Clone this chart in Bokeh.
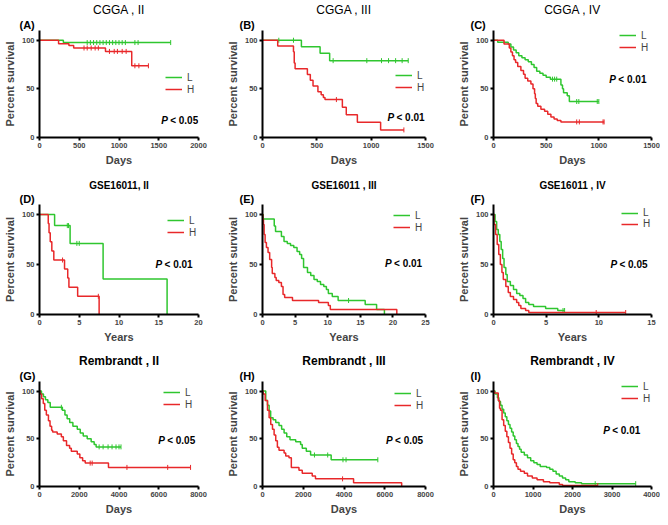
import numpy as np
from bokeh.plotting import figure
from bokeh.layouts import gridplot
from bokeh.models import Range1d, FixedTicker, Label, Legend, LegendItem, Title
from bokeh.embed import file_html
from bokeh.resources import INLINE

FONT = "Liberation Sans"
GREEN = "#2fc62f"
RED = "#e8282a"

# ---------------- data (Kaplan-Meier steps: time, percent survival, censor times) ----------------
A_ticks = [0, 500, 1000, 1500, 2000]
A_L_t = [0, 300, 1650]
A_L_s = [100, 97.6, 97.6]
A_L_c = [600, 640, 680, 720, 760, 800, 840, 880, 920, 960, 1000, 1040, 1080, 1200, 1240, 1650]
A_H_t = [0, 240, 370, 430, 830, 1160, 1370]
A_H_s = [100, 96.5, 94.5, 92, 88.5, 73.7, 73.7]
A_H_c = [560, 600, 650, 700, 740, 880, 940, 980, 1040, 1090, 1200, 1250, 1370]

B_ticks = [0, 500, 1000, 1500]
B_L_t = [0, 358, 530, 618, 1341]
B_L_s = [100, 93.3, 86.7, 79, 79]
B_L_c = [150, 285, 650, 960, 1095, 1160, 1225, 1285, 1341]
B_H_t = [0, 140, 285, 292, 300, 413, 440, 465, 510, 540, 560, 575, 735, 771, 873, 1087, 1301]
B_H_s = [100, 94.1, 88.2, 76.5, 70.6, 64.7, 58.8, 52.9, 47.1, 44, 41.2, 39, 31, 23.5, 15.7, 7.8, 7.8]
B_H_c = [680, 1301]

C_ticks = [0, 500, 1000, 1500]
C_L_t = [0, 40, 140, 165, 190, 215, 240, 270, 300, 330, 360, 385, 410, 440, 470, 500, 540, 640, 655, 665, 700, 720, 1000]
C_L_s = [100, 98, 96, 93, 90, 87, 84, 82, 80, 78, 75, 72, 68, 66, 64, 62, 60, 54, 50, 46, 43, 37, 37]
C_L_c = [560, 580, 600, 790, 810, 985, 1000]
C_H_t = [0, 100, 150, 165, 180, 195, 210, 230, 260, 285, 300, 325, 355, 375, 390, 397, 405, 420, 450, 485, 515, 545, 575, 605, 640, 1050]
C_H_s = [100, 96, 92, 88, 84, 80, 77, 73, 69, 65, 61, 58, 55, 50, 45, 40, 35, 32, 29, 27, 24, 21, 19, 17.5, 16, 16]
C_H_c = [790, 815, 1040, 1050]

D_ticks = [0, 5, 10, 15, 20]
D_L_t = [0, 1.9, 3.85, 8.0, 16.05]
D_L_s = [100, 88.9, 71.1, 35.6, 0]
D_L_c = [3.5, 3.65, 4.7, 5.0]
D_H_t = [0, 1.1, 1.2, 1.35, 1.55, 1.8, 3.15, 3.55, 3.7, 4.8, 7.5]
D_H_s = [100, 90.9, 81.8, 72.7, 63.6, 54.5, 45.5, 36.4, 27.3, 18.2, 0]
D_H_c = [2.9, 7.4]

E_ticks = [0, 5, 10, 15, 20, 25]
E_L_t = [0, 0.1, 1.8, 2.0, 2.9, 3.3, 3.8, 4.3, 4.8, 5.3, 5.7, 6.0, 6.3, 6.9, 7.4, 7.9, 8.4, 8.9, 9.4, 9.8, 10.1, 10.7, 11.6, 15.75, 17.5, 18.7]
E_L_s = [100, 95.5, 88.5, 83, 78, 73, 71, 69, 67, 63, 60, 56, 47, 42, 39, 35, 33, 30, 28, 25, 21, 18, 14, 10, 5, 0]
E_L_c = [13.2]
E_H_t = [0, 0.05, 0.15, 0.25, 0.4, 0.6, 0.85, 1.1, 1.4, 1.5, 1.9, 2.1, 2.5, 2.9, 3.15, 3.4, 4.6, 8.6, 10.1, 10.4, 20.6]
E_H_s = [100, 95, 90, 80, 72, 67, 62, 55, 47, 41, 37, 34, 32, 28, 20, 17, 14, 12, 9, 5, 0]
E_H_c = []

F_ticks = [0, 5, 10, 15]
F_L_t = [0, 0.15, 0.3, 0.45, 0.6, 0.73, 0.87, 1.0, 1.17, 1.3, 1.6, 1.9, 2.2, 2.5, 2.8, 3.05, 3.35, 3.8, 4.95, 6.1, 6.75]
F_L_s = [100, 93, 85, 80, 73, 65, 56, 47, 40, 33, 29, 25, 21, 19, 16, 12, 10, 8, 6, 4, 4]
F_L_c = [6.6, 6.75]
F_H_t = [0, 0.05, 0.2, 0.35, 0.5, 0.65, 0.8, 0.93, 1.17, 1.4, 1.6, 1.9, 2.2, 2.4, 2.6, 3.05, 3.35, 12.55]
F_H_s = [100, 90, 80, 70, 60, 50, 42, 35, 28, 22, 18, 15, 12, 9, 6, 4, 2, 2]
F_H_c = [9.75, 12.55]

G_ticks = [0, 2000, 4000, 6000, 8000]
G_L_t = [0, 100, 200, 300, 420, 540, 1150, 1280, 1390, 1520, 1680, 1900, 2050, 2200, 2400, 2600, 2750, 2850, 4100]
G_L_s = [100, 97, 94, 91, 88, 83, 80, 75, 71, 67, 63, 60, 56, 53, 50, 47, 44, 41.5, 41.5]
G_L_c = [1100, 3000, 3200, 3450, 3650, 3850, 4000, 4100]
G_H_t = [0, 30, 110, 190, 265, 345, 450, 530, 610, 660, 890, 1100, 1200, 1360, 1515, 1600, 1900, 2030, 2170, 2300, 3470, 7600]
G_H_s = [100, 97, 92, 87, 80, 75, 69, 63, 59, 57, 55, 52, 48, 43, 40, 37, 34, 30, 27, 24.5, 20, 20]
G_H_c = [2550, 2650, 4400, 6450, 7600]

H_ticks = [0, 2000, 4000, 6000, 8000]
H_L_t = [0, 160, 245, 325, 400, 520, 650, 810, 940, 1060, 1190, 1350, 1630, 1870, 1950, 2150, 2360, 3370, 5660]
H_L_s = [100, 90, 85, 79, 72, 70, 67, 64, 60, 56, 52, 49, 47, 44, 40, 37, 33, 28, 28]
H_L_c = [2550, 3200, 3950, 4100, 5660]
H_H_t = [0, 30, 130, 245, 325, 405, 490, 570, 650, 730, 810, 1060, 1140, 1300, 1415, 1790, 1950, 2440, 2600, 4470, 6830]
H_H_s = [100, 97, 90, 80, 72, 65, 60, 54, 48, 41, 38, 35, 32, 30, 20, 17, 14, 11, 8, 4, 0]
H_H_c = [3930]

I_ticks = [0, 1000, 2000, 3000, 4000]
I_L_t = [0, 40, 100, 137, 177, 217, 258, 298, 338, 378, 418, 459, 499, 539, 580, 620, 660, 700, 780, 861,
         942, 1022, 1103, 1183, 1344, 1425, 1505, 1586, 1666, 1747, 1827, 1907, 2068, 2229, 3600]
I_L_s = [100, 97, 93, 89, 85, 81, 77, 73, 69, 65, 61, 57, 53, 49, 45, 42, 39, 36, 33, 30,
         27, 25, 23, 21, 20, 18, 16, 13, 11, 9, 7, 5, 4, 3, 3]
I_L_c = [2575, 3600]
I_H_t = [0, 20, 120, 153, 177, 217, 258, 298, 338, 378, 418, 459, 499, 539, 580, 620, 684, 780, 861, 982,
         1103, 1264, 1425, 1666, 1750, 2640]
I_H_s = [100, 98, 90, 82, 80, 70, 64, 58, 52, 46, 40, 34, 28, 25, 21, 18, 16, 14, 11, 9,
         7, 5, 4, 2, 1, 1]
I_H_c = [2640]

panels = [
    dict(letter="(A)", title="CGGA , II", xlab="Days", ticks=A_ticks, L=(A_L_t, A_L_s, A_L_c), H=(A_H_t, A_H_s, A_H_c), p="< 0.05"),
    dict(letter="(B)", title="CGGA , III", xlab="Days", ticks=B_ticks, L=(B_L_t, B_L_s, B_L_c), H=(B_H_t, B_H_s, B_H_c), p="< 0.01"),
    dict(letter="(C)", title="CGGA , IV", xlab="Days", ticks=C_ticks, L=(C_L_t, C_L_s, C_L_c), H=(C_H_t, C_H_s, C_H_c), p="< 0.01"),
    dict(letter="(D)", title="GSE16011, II", xlab="Years", ticks=D_ticks, L=(D_L_t, D_L_s, D_L_c), H=(D_H_t, D_H_s, D_H_c), p="< 0.01"),
    dict(letter="(E)", title="GSE16011 , III", xlab="Years", ticks=E_ticks, L=(E_L_t, E_L_s, E_L_c), H=(E_H_t, E_H_s, E_H_c), p="< 0.01"),
    dict(letter="(F)", title="GSE16011 , IV", xlab="Years", ticks=F_ticks, L=(F_L_t, F_L_s, F_L_c), H=(F_H_t, F_H_s, F_H_c), p="< 0.05"),
    dict(letter="(G)", title="Rembrandt , II", xlab="Days", ticks=G_ticks, L=(G_L_t, G_L_s, G_L_c), H=(G_H_t, G_H_s, G_H_c), p="< 0.05"),
    dict(letter="(H)", title="Rembrandt , III", xlab="Days", ticks=H_ticks, L=(H_L_t, H_L_s, H_L_c), H=(H_H_t, H_H_s, H_H_c), p="< 0.05"),
    dict(letter="(I)", title="Rembrandt , IV", xlab="Days", ticks=I_ticks, L=(I_L_t, I_L_s, I_L_c), H=(I_H_t, I_H_s, I_H_c), p="< 0.01"),
]

# ---------------- layout (positions / sizes) ----------------
COL_W = [222, 223, 215]
COL_LEFT = [37, 40, 48]
COL_RIGHT = [24, 20, 9]
ROW_H = [170, 175, 172]
ROW_TOP = [28, 34, 36]
ROW_BOTTOM = [33, 31, 29]
ROW_TITLE = [dict(size="12px", style="normal"), dict(size="10px", style="bold"), dict(size="12px", style="bold")]
LETTER_DX = [-20, -23, -23]
P_POS = [(1530, 17), (1150, 21), (1100, 60), (14.6, 50), (18.8, 51), (11.1, 50), (5970, 48.5), (6065, 48.5), (2777, 59)]
LEG_POS = [(126, 42), (133, 44), (126, 84), (128, 76), (131, 81), (128, 85), (124, 76), (132, 75), (128, 82)]
LEG_H = [12, 12, 12, 12, 12, 8, 12, 12, 12]


def at(t, s, c):
    idx = np.searchsorted(np.asarray(t, dtype=float), np.asarray(c, dtype=float), side="right") - 1
    return list(np.asarray(s, dtype=float)[idx])


def make(i, pan):
    row, col = divmod(i, 3)
    xmax = pan["ticks"][-1]
    p = figure(width=COL_W[col], height=ROW_H[row], output_backend="svg", toolbar_location=None,
               title=None, x_range=Range1d(0, xmax), y_range=Range1d(0, 110),
               min_border_left=COL_LEFT[col], min_border_right=COL_RIGHT[col],
               min_border_top=ROW_TOP[row], min_border_bottom=ROW_BOTTOM[row])
    p.outline_line_color = None
    p.xgrid.visible = False
    p.ygrid.visible = False
    p.background_fill_color = "white"
    p.xaxis.ticker = FixedTicker(ticks=pan["ticks"])
    p.yaxis.ticker = FixedTicker(ticks=[0, 50, 100])
    p.xaxis.axis_label = pan["xlab"]
    p.yaxis.axis_label = "Percent survival"
    for ax in (p.xaxis[0], p.yaxis[0]):
        ax.axis_line_width = 2
        ax.axis_line_color = "black"
        ax.major_tick_line_width = 2
        ax.major_tick_out = 3
        ax.major_tick_in = 0
        ax.minor_tick_line_color = None
        ax.major_label_text_font = FONT
        ax.major_label_text_font_style = "bold"
        ax.major_label_text_font_size = "7.5px"
        ax.major_label_standoff = 2
        ax.axis_label_text_font = FONT
        ax.axis_label_text_font_style = "bold"
        ax.axis_label_text_font_size = "11px"
        ax.axis_label_standoff = 3

    items = []
    for name, color in (("L", GREEN), ("H", RED)):
        t, s, c = pan[name]
        r = p.step(x=t, y=s, mode="after", line_color=color, line_width=1.5)
        rs = [r]
        if len(c):
            m = p.scatter(x=c, y=at(t, s, c), marker="dash", angle=np.pi / 2, size=5,
                          line_color=color, line_width=1)
            rs.append(m)
        items.append(LegendItem(label=name, renderers=rs))

    leg = Legend(items=items, location=LEG_POS[i])
    leg.border_line_color = None
    leg.background_fill_alpha = 0
    leg.padding = 0
    leg.margin = 0
    leg.spacing = 0
    leg.glyph_width = 17
    leg.glyph_height = LEG_H[i]
    leg.label_height = LEG_H[i]
    leg.label_standoff = 5
    leg.label_text_font = FONT
    leg.label_text_font_size = "10px"
    p.add_layout(leg)

    tt = ROW_TITLE[row]
    p.add_layout(Title(text=pan["letter"], align="left", offset=LETTER_DX[col], standoff=0,
                       text_font=FONT, text_font_size="11px", text_font_style="bold",
                       text_color="black"), "above")
    p.add_layout(Title(text=pan["title"], align="center", standoff=0,
                       text_font=FONT, text_font_size=tt["size"], text_font_style=tt["style"],
                       text_color="black"), "above")

    px, py = P_POS[i]
    p.add_layout(Label(x=px, y=py, text="P", text_align="left", text_baseline="middle", text_font=FONT,
                       text_font_size="10px", text_font_style="bold italic", text_color="black"))
    p.add_layout(Label(x=px, y=py, x_offset=9, text=pan["p"], text_align="left", text_baseline="middle",
                       text_font=FONT, text_font_size="10px", text_font_style="bold", text_color="black"))
    return p


figs = [make(i, pan) for i, pan in enumerate(panels)]
grid = gridplot([figs[0:3], figs[3:6], figs[6:9]], toolbar_location=None)

open("out.html", "w").write(file_html(grid, INLINE))
